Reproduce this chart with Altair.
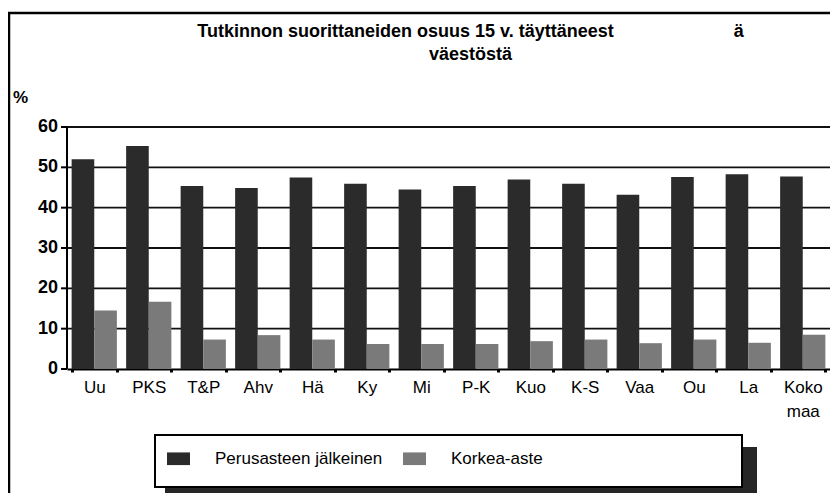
import altair as alt
import pandas as pd

categories = ["Uu", "PKS", "T&P", "Ahv", "Hä", "Ky", "Mi", "P-K", "Kuo", "K-S", "Vaa", "Ou", "La", "Koko maa"]
series = ["Perusasteen jälkeinen", "Korkea-aste"]
perusaste = [52.0, 55.3, 45.4, 44.9, 47.5, 45.9, 44.5, 45.4, 47.0, 45.9, 43.2, 47.6, 48.3, 47.7]
korkea = [14.5, 16.7, 7.3, 8.4, 7.3, 6.2, 6.2, 6.2, 6.9, 7.3, 6.4, 7.3, 6.5, 8.5]
y_ticks = [0, 10, 20, 30, 40, 50, 60]

rows = []
for c, p, k in zip(categories, perusaste, korkea):
    rows.append({"alue": c, "sarja": series[0], "arvo": p})
    rows.append({"alue": c, "sarja": series[1], "arvo": k})
df = pd.DataFrame(rows)
grid_df = pd.DataFrame({"v": y_ticks[1:]})
tick_df = pd.DataFrame({"t": y_ticks})

FONT = "Liberation Sans"
W, H = 763, 242
yscale = alt.Scale(domain=[0, 60], nice=False)

gridlines = alt.Chart(grid_df).mark_rule(color="#111111", strokeWidth=1.8).encode(
    y=alt.Y("v:Q", scale=yscale, axis=None))

bars = alt.Chart(df).mark_bar().encode(
    x=alt.X("alue:N", sort=categories, title=None,
            scale=alt.Scale(paddingInner=0.17, paddingOuter=0.085),
            axis=alt.Axis(labelAngle=0, labelFontSize=17, labelFont=FONT, labelColor="black",
                          labelPadding=7, labelExpr="split(datum.label, ' ')", labelLineHeight=24,
                          domainColor="black", domainWidth=2, tickBand="extent", tickSize=3,
                          tickColor="black", tickWidth=3, grid=False)),
    xOffset=alt.XOffset("sarja:N", sort=series),
    y=alt.Y("arvo:Q", scale=yscale, axis=None),
    color=alt.Color("sarja:N", sort=series,
                    scale=alt.Scale(domain=series, range=["#2b2b2b", "#7a7a7a"]),
                    legend=alt.Legend(title=None, orient="none", legendX=100, legendY=320,
                                      direction="horizontal", columns=2, padding=0,
                                      symbolType="M-1,-0.55H1V0.55H-1Z", symbolSize=529,
                                      symbolStrokeWidth=0, labelFontSize=17, labelFont=FONT,
                                      labelColor="black", labelOffset=25, columnPadding=20,
                                      labelLimit=300)),
)

yticks = alt.Chart(tick_df).mark_rule(color="black", strokeWidth=2).encode(
    y=alt.Y("t:Q", scale=yscale, axis=None), x=alt.value(-6), x2=alt.value(0))

ylabels = alt.Chart(tick_df).mark_text(align="right", baseline="middle", font=FONT,
                                       fontSize=18, fontWeight="bold", color="black").encode(
    y=alt.Y("t:Q", scale=yscale, axis=None), x=alt.value(-9), text=alt.Text("t:Q"))

one = pd.DataFrame({"d": [0]})
ydomain = alt.Chart(one).mark_rule(color="black", strokeWidth=2).encode(
    x=alt.value(0), y=alt.value(0), y2=alt.value(H))
percent = alt.Chart(one).mark_text(text="%", align="left", baseline="alphabetic", font=FONT,
                                   fontSize=17, fontWeight="bold", color="black").encode(
    x=alt.value(-54), y=alt.value(-24))
shadow = alt.Chart(one).mark_rect(fill="#262626").encode(
    x=alt.value(98), x2=alt.value(690), y=alt.value(320), y2=alt.value(H + 200))
box = alt.Chart(one).mark_rect(fill="white", stroke="black", strokeWidth=2).encode(
    x=alt.value(88), x2=alt.value(675), y=alt.value(308), y2=alt.value(360))
border = alt.Chart(one).mark_rect(filled=False, stroke="black", strokeWidth=2.5).encode(
    x=alt.value(-58), x2=alt.value(W + 40), y=alt.value(-114), y2=alt.value(H + 200))

chart = alt.layer(gridlines, bars, yticks, ylabels, ydomain, percent, shadow, box, border).properties(
    width=W, height=H,
    autosize=alt.AutoSizeParams(type="none"),
    padding={"left": 59, "top": 119, "right": 0, "bottom": 124},
    title=alt.Title(["Tutkinnon suorittaneiden osuus 15 v. täyttäneest" + "\u00a0" * 24 + "ä",
                     "väestöstä"],
                    font=FONT, fontSize=18, fontWeight="bold", color="black",
                    anchor="middle", dx=22, offset=-52, lineHeight=23),
).configure_view(strokeWidth=0).configure(background="white")

chart.save("out.html", embed_options={"renderer": "svg", "actions": False})
